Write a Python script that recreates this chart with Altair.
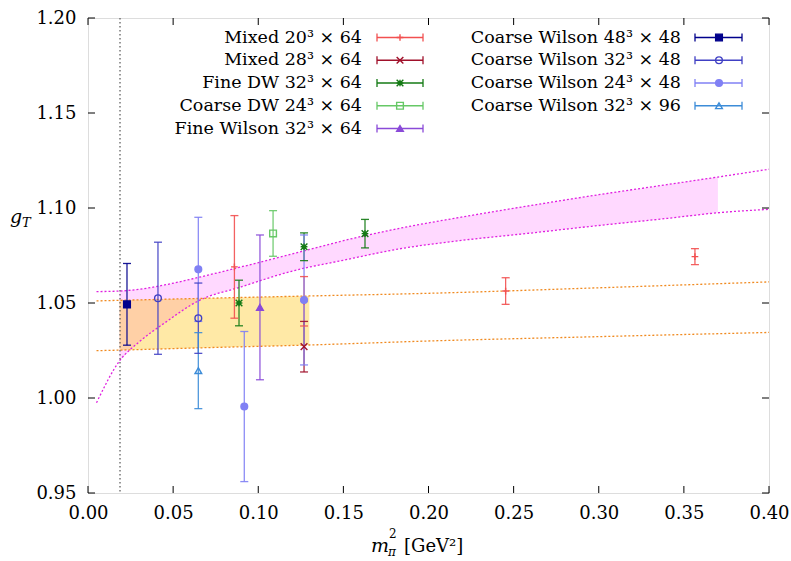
import altair as alt
import pandas as pd

# ---------------- data ----------------
series_names = [
    "Mixed 20³ × 64", "Mixed 28³ × 64", "Fine DW 32³ × 64", "Coarse DW 24³ × 64",
    "Fine Wilson 32³ × 64", "Coarse Wilson 48³ × 48", "Coarse Wilson 32³ × 48",
    "Coarse Wilson 24³ × 48", "Coarse Wilson 32³ × 96",
]

mixed20_x = [0.0860, 0.1269, 0.2453, 0.3565]
mixed20_y = [1.0690, 1.0509, 1.0563, 1.0744]
mixed20_e = [0.0270, 0.0130, 0.0070, 0.0042]

mixed28_x = [0.1269]
mixed28_y = [1.0270]
mixed28_e = [0.0133]

finedw_x = [0.0887, 0.1269, 0.1627]
finedw_y = [1.0500, 1.0796, 1.0865]
finedw_e = [0.0120, 0.0073, 0.0075]

coarsedw_x = [0.1087]
coarsedw_y = [1.0866]
coarsedw_e = [0.0120]

finewil_x = [0.1010]
finewil_y = [1.0477]
finewil_e = [0.0381]

cw48_x = [0.0229]
cw48_y = [1.0493]
cw48_e = [0.0215]

cw32_x = [0.0411, 0.0648]
cw32_y = [1.0525, 1.0420]
cw32_e = [0.0295, 0.0185]

cw24_x = [0.0648, 0.0918, 0.1269]
cw24_y = [1.0677, 0.9955, 1.0516]
cw24_e = [0.0274, 0.0395, 0.0342]

cw96_x = [0.0648]
cw96_y = [1.0144]
cw96_e = [0.0200]

# chiral-fit bands
pink_x = [0.005, 0.0185, 0.03, 0.045, 0.065, 0.09, 0.12, 0.15, 0.183, 0.22, 0.26, 0.30, 0.34, 0.37, 0.40]
pink_hi = [1.0560, 1.0563, 1.0572, 1.0595, 1.0635, 1.0690, 1.0758, 1.0828, 1.0893, 1.0953, 1.1013, 1.1070, 1.1123, 1.1163, 1.1204]
pink_lo = [0.9975, 1.0195, 1.0295, 1.0395, 1.0512, 1.0585, 1.0668, 1.0725, 1.0785, 1.0830, 1.0868, 1.0908, 1.0945, 1.0975, 1.0993]

orange_x = [0.005, 0.0185, 0.07, 0.13, 0.20, 0.30, 0.40]
orange_hi = [1.0511, 1.0514, 1.0525, 1.0537, 1.0551, 1.0580, 1.0611]
orange_lo = [1.0249, 1.0252, 1.0265, 1.0279, 1.0300, 1.0323, 1.0345]

phys_point = [0.0188]

x_ticks = [0.00, 0.05, 0.10, 0.15, 0.20, 0.25, 0.30, 0.35, 0.40]
y_ticks = [0.95, 1.00, 1.05, 1.10, 1.15, 1.20]

# ---------------- styles ----------------
colors = ["#f25050", "#a0102a", "#147a14", "#66c866", "#8a4ad8",
          "#00008c", "#4040c4", "#8080f4", "#3c8cd8"]
fills = ["transparent", "transparent", "transparent", "transparent", "#8a4ad8",
         "#00008c", "transparent", "#8080f4", "transparent"]
shapes = [
    "M-1,0H1M0,-1V1",
    "M-1,-1L1,1M-1,1L1,-1",
    "M-1,-1L1,1M-1,1L1,-1M-1,0H1M0,-1V1",
    "square",
    "triangle-up",
    "square",
    "circle",
    "circle",
    "triangle-up",
]

SERIF = "DejaVu Serif"

rows = []
for name, xs, ys, es in zip(
    series_names,
    [mixed20_x, mixed28_x, finedw_x, coarsedw_x, finewil_x, cw48_x, cw32_x, cw24_x, cw96_x],
    [mixed20_y, mixed28_y, finedw_y, coarsedw_y, finewil_y, cw48_y, cw32_y, cw24_y, cw96_y],
    [mixed20_e, mixed28_e, finedw_e, coarsedw_e, finewil_e, cw48_e, cw32_e, cw24_e, cw96_e],
):
    for a, b, c in zip(xs, ys, es):
        rows.append({"series": name, "x": a, "y": b, "err": c})
pts = pd.DataFrame(rows)

pink = pd.DataFrame({"x": pink_x, "hi": pink_hi, "lo": pink_lo})
orange = pd.DataFrame({"x": orange_x, "hi": orange_hi, "lo": orange_lo})

xscale = alt.Scale(domain=[0.0, 0.40], nice=False, zero=False, padding=0)
yscale = alt.Scale(domain=[0.95, 1.20], nice=False, zero=False, padding=0)
xaxis = alt.Axis(values=x_ticks, format=".2f", ticks=False, tickSize=0, domain=False, grid=False,
                 labelFlush=False, labelOverlap=False,
                 labelFont=SERIF, labelFontSize=18, labelColor="black", labelPadding=11, title=None)
yaxis = alt.Axis(values=y_ticks, format=".2f", ticks=False, tickSize=0, domain=False, grid=False,
                 labelFlush=False, labelOverlap=False,
                 labelFont=SERIF, labelFontSize=18, labelColor="black", labelPadding=12, title=None)


def X(f="x"):
    return alt.X(f"{f}:Q", scale=xscale, axis=xaxis)


def Y(f):
    return alt.Y(f"{f}:Q", scale=yscale, axis=yaxis)


col_scale = alt.Scale(domain=series_names, range=colors)
fill_scale = alt.Scale(domain=series_names, range=fills)
shape_scale = alt.Scale(domain=series_names, range=shapes)

# bands
pink_area = alt.Chart(pink).transform_filter("datum.x >= 0.0185 && datum.x <= 0.37").mark_area(
    color="#ff00ff", opacity=0.15, interpolate="monotone"
).encode(x=X(), y=Y("lo"), y2="hi:Q")

orange_area = alt.Chart(orange).transform_filter("datum.x >= 0.0185 && datum.x <= 0.13").mark_area(
    color="#ffc000", opacity=0.35, interpolate="monotone"
).encode(x=X(), y=Y("lo"), y2="hi:Q")

pink_lines = alt.Chart(pink).transform_fold(["hi", "lo"], as_=["k", "v"]).mark_line(
    color="#e020e0", strokeDash=[2, 2], strokeWidth=1.3, interpolate="monotone"
).encode(x=X(), y=Y("v"), detail="k:N")

orange_lines = alt.Chart(orange).transform_fold(["hi", "lo"], as_=["k", "v"]).mark_line(
    color="#f08a20", strokeDash=[2, 2], strokeWidth=1.3, interpolate="monotone"
).encode(x=X(), y=Y("v"), detail="k:N")

vline = alt.Chart(pd.DataFrame({"x": phys_point})).mark_rule(
    color="#555555", strokeDash=[1.5, 2.5], strokeWidth=1.2
).encode(x=X(), y=alt.value(0), y2=alt.value(475))

# error bars
eb = alt.Chart(pts).transform_calculate(lo="datum.y - datum.err", hi="datum.y + datum.err")
bars = eb.mark_rule(strokeWidth=1.3, opacity=0.9).encode(
    x=X(), y=Y("lo"), y2="hi:Q", color=alt.Color("series:N", scale=col_scale, legend=None)
)
cap_hi = eb.mark_tick(orient="horizontal", size=8, thickness=1.3, opacity=0.9).encode(
    x=X(), y=Y("hi"), color=alt.Color("series:N", scale=col_scale, legend=None)
)
cap_lo = eb.mark_tick(orient="horizontal", size=8, thickness=1.3, opacity=0.9).encode(
    x=X(), y=Y("lo"), color=alt.Color("series:N", scale=col_scale, legend=None)
)
marks = alt.Chart(pts).mark_point(size=45, strokeWidth=1.4, opacity=1).encode(
    x=X(), y=Y("y"),
    stroke=alt.Stroke("series:N", scale=col_scale, legend=None),
    fill=alt.Fill("series:N", scale=fill_scale, legend=None),
    shape=alt.Shape("series:N", scale=shape_scale, legend=None),
)

# frame ticks (inward, mirrored)
xt = alt.Chart(pd.DataFrame({"x": x_ticks}))
yt = alt.Chart(pd.DataFrame({"y": y_ticks}))
tick_b = xt.mark_rule(color="black", strokeWidth=1).encode(x=X(), y=alt.value(475), y2=alt.value(468))
tick_t = xt.mark_rule(color="black", strokeWidth=1).encode(x=X(), y=alt.value(0), y2=alt.value(7))
tick_l = yt.mark_rule(color="black", strokeWidth=1).encode(y=Y("y"), x=alt.value(0), x2=alt.value(7))
tick_r = yt.mark_rule(color="black", strokeWidth=1).encode(y=Y("y"), x=alt.value(681), x2=alt.value(674))

# legend (column-major, two columns)
leg = alt.Chart(pd.DataFrame({"series": series_names, "idx": list(range(len(series_names)))})).transform_calculate(
    col="datum.idx < 5 ? 0 : 1",
    row="datum.idx < 5 ? datum.idx : datum.idx - 5",
).transform_calculate(
    ty="19.5 + 22.75 * datum.row",
    tx="datum.col == 0 ? 274 : 593",
    s0="datum.col == 0 ? 289 : 607",
    s1="datum.col == 0 ? 335 : 654",
    sm="datum.col == 0 ? 312 : 631",
    cy0="datum.ty - 4",
    cy1="datum.ty + 4",
)
PX = lambda f: alt.X(f"{f}:Q", scale=None, axis=None)
PY = lambda f: alt.Y(f"{f}:Q", scale=None, axis=None)
leg_text = leg.mark_text(align="right", baseline="middle", font=SERIF, fontSize=17.5, color="black").encode(
    x=PX("tx"), y=PY("ty"), text="series:N"
)
leg_line = leg.mark_rule(strokeWidth=1.3).encode(
    x=PX("s0"), x2="s1:Q", y=PY("ty"), color=alt.Color("series:N", scale=col_scale, legend=None)
)
leg_cap0 = leg.mark_rule(strokeWidth=1.3).encode(
    x=PX("s0"), y=PY("cy0"), y2="cy1:Q", color=alt.Color("series:N", scale=col_scale, legend=None)
)
leg_cap1 = leg.mark_rule(strokeWidth=1.3).encode(
    x=PX("s1"), y=PY("cy0"), y2="cy1:Q", color=alt.Color("series:N", scale=col_scale, legend=None)
)
leg_mark = leg.mark_point(size=45, strokeWidth=1.4, opacity=1).encode(
    x=PX("sm"), y=PY("ty"),
    stroke=alt.Stroke("series:N", scale=col_scale, legend=None),
    fill=alt.Fill("series:N", scale=fill_scale, legend=None),
    shape=alt.Shape("series:N", scale=shape_scale, legend=None),
)

# axis titles
def txt(s, x, y, size, italic=False):
    return alt.Chart(pd.DataFrame({"t": [s]})).mark_text(
        align="left", baseline="alphabetic", font=SERIF, fontSize=size,
        fontStyle="italic" if italic else "normal", color="black"
    ).encode(text="t:N", x=alt.value(x), y=alt.value(y))


titles = [
    txt("g", -78, 205, 19, True),
    txt("T", -66, 209, 13, True),
    txt("m", 283, 534, 19, True),
    txt("2", 301, 520, 12),
    txt("π", 300, 538, 12, True),
    txt("[GeV²]", 316, 534, 18),
]

chart = alt.layer(
    pink_area, orange_area, pink_lines, orange_lines, vline,
    bars, cap_hi, cap_lo, marks,
    tick_b, tick_t, tick_l, tick_r,
    leg_line, leg_cap0, leg_cap1, leg_mark, leg_text,
    *titles,
).properties(
    width=681, height=475,
    autosize=alt.AutoSizeParams(type="none"),
    padding={"left": 88, "top": 18, "right": 22, "bottom": 68},
).configure_view(stroke="black", strokeWidth=1.2).configure(background="white")

chart.save("out.html", embed_options={"renderer": "svg", "actions": False})
